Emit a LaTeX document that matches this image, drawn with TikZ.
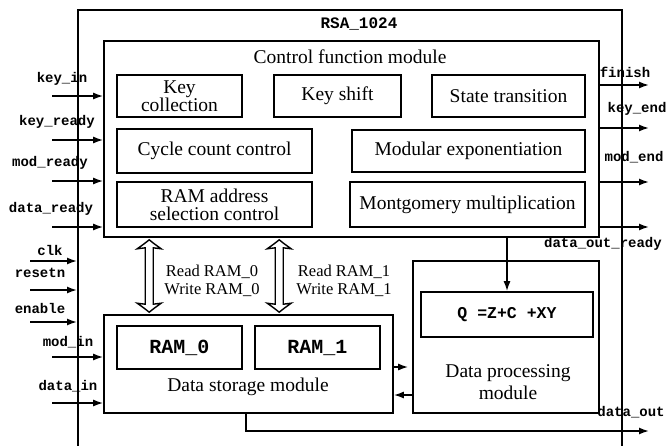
\documentclass[tikz,border=0pt]{standalone}
\usepackage{fontspec}
\setmainfont{Liberation Serif}
\newfontfamily\monof{Liberation Mono}
\usetikzlibrary{arrows.meta,calc}
\begin{document}
\begin{tikzpicture}[x=1pt,y=-1pt,
 box/.style={draw, line width=1.6pt, inner sep=0pt, align=center, font=\fontsize{19.5}{21}\selectfont},
 txt/.style={inner sep=0pt, align=center, font=\fontsize{19.5}{22}\selectfont},
 sig/.style={line width=1.6pt, -{Latex[length=10pt,width=7pt]}},
 lab/.style={font=\monof\bfseries\fontsize{14}{16}\selectfont, inner sep=0pt},
 rwlab/.style={inner sep=0pt, align=center, font=\fontsize{16.5}{18}\selectfont},
 dbl/.style={draw, fill=white, line width=1.4pt, line join=miter}
]
\useasboundingbox (0,0) rectangle (672,445);
\clip (0,0) rectangle (672,445);
\fill[white] (0,0) rectangle (672,445);

% outer box
\node[box, minimum width=544pt, minimum height=470pt, anchor=north west] (rsa) at (77,9) {};
\node[lab, font=\monof\bfseries\fontsize{16}{18}\selectfont] (title) at (359,24) {RSA\_1024};

% control function module
\node[box, minimum width=495pt, minimum height=196pt] (ctrl) at (351.5,139) {};
\node[txt] (ctitle) at (350,57) {Control function module};
\node[box, minimum width=125pt, minimum height=42pt] (keyc) at (179.5,96) {Key\\[-3pt]collection};
\node[box, minimum width=127pt, minimum height=42pt] (keys) at (337.5,96) {Key shift};
\node[box, minimum width=153pt, minimum height=42pt] (state) at (508.5,96) {State transition};
\node[box, minimum width=195pt, minimum height=44pt] (cycle) at (214.5,151) {Cycle count control};
\node[box, minimum width=233pt, minimum height=42pt] (modexp) at (468.5,151) {Modular exponentiation};
\node[box, minimum width=195pt, minimum height=45pt] (ramaddr) at (214.5,204.5) {RAM address\\[-3pt]selection control};
\node[box, minimum width=235pt, minimum height=45pt] (mont) at (467.5,204.5) {Montgomery multiplication};

% data storage
\node[box, minimum width=289pt, minimum height=98pt] (store) at (248.5,364) {};
\node[box, minimum width=125pt, minimum height=43pt, font=\monof\bfseries\fontsize{20}{22}\selectfont] (ram0) at (179.5,347.5) {RAM\_0};
\node[box, minimum width=125pt, minimum height=43pt, font=\monof\bfseries\fontsize{20}{22}\selectfont] (ram1) at (317.5,347.5) {RAM\_1};
\node[txt] (stitle) at (248,387) {Data storage module};

% data processing
\node[box, minimum width=186pt, minimum height=152pt] (dp) at (506,337) {};
\node[box, minimum width=172pt, minimum height=45pt, font=\monof\bfseries\fontsize{16.5}{18}\selectfont] (qbox) at (507,314.5) {Q =Z+C +XY};
\node[txt] (dptitle) at (508,382) {Data processing\\module};

% internal connectors
\draw[sig] (ctrl.south -| qbox.north) -- (qbox.north);
% hollow double-headed arrows between control and storage
\coordinate (d0t) at ($(ctrl.south west)+(46,2)$);
\coordinate (d0b) at ($(store.north west)+(46,-2)$);
\coordinate (d1t) at ($(ctrl.south west)+(176,2)$);
\coordinate (d1b) at ($(store.north west)+(176,-2)$);
\foreach \t/\b in {d0t/d0b,d1t/d1b}{
 \path[dbl] (\t)
   .. controls ($(\t)+(5,4)$) .. ($(\t)+(12,9)$)
   -- ($(\t)+(4,8)$) -- ($(\b)+(4,-8)$) -- ($(\b)+(12,-9)$)
   .. controls ($(\b)+(5,-4)$) .. (\b)
   .. controls ($(\b)+(-5,-4)$) .. ($(\b)+(-12,-9)$)
   -- ($(\b)+(-4,-8)$) -- ($(\t)+(-4,8)$) -- ($(\t)+(-12,9)$)
   .. controls ($(\t)+(-5,4)$) .. (\t) -- cycle;
}
\node[rwlab] (rw0) at (212,281) {Read RAM\_0\\Write RAM\_0};
\node[rwlab] (rw1) at (344,281) {Read RAM\_1\\Write RAM\_1};
\coordinate (a1) at (393,367);
\coordinate (a2) at (413,395);
\draw[sig, shorten >=4pt] (a1) -- (a1 -| dp.west);
\draw[sig] (a2) -- (a2 -| store.east);

% inputs
\coordinate (kin) at (52,96);
\coordinate (krd) at (52,140);
\coordinate (mrd) at (52,181);
\coordinate (drd) at (52,227);
\coordinate (clkS) at (30,261);
\coordinate (rstS) at (30,290);
\coordinate (enS) at (30,322);
\coordinate (minS) at (52,357);
\coordinate (dinS) at (52,403);
\draw[sig] (kin) -- (kin -| ctrl.west);
\draw[sig] (krd) -- (krd -| ctrl.west);
\draw[sig] (mrd) -- (mrd -| ctrl.west);
\draw[sig] (drd) -- (drd -| ctrl.west);
\draw[sig] (clkS) -- (clkS -| rsa.west);
\draw[sig] (rstS) -- (rstS -| rsa.west);
\draw[sig] (enS) -- (enS -| rsa.west);
\draw[sig] (minS) -- (minS -| store.west);
\draw[sig] (dinS) -- (dinS -| store.west);
\node[lab] (lkin) at (62,79) {key\_in};
\node[lab] (lkrd) at (57,122) {key\_ready};
\node[lab] (lmrd) at (50,163) {mod\_ready};
\node[lab] (ldrd) at (51,209) {data\_ready};
\node[lab] (lclk) at (50,250) {clk};
\node[lab] (lrst) at (40,273) {resetn};
\node[lab] (len) at (40,308) {enable};
\node[lab] (lmin) at (68,342) {mod\_in};
\node[lab] (ldin) at (68,386) {data\_in};

% outputs
\coordinate (finE) at (649,85);
\coordinate (kendE) at (649,128);
\coordinate (mendE) at (649,182);
\coordinate (dorE) at (649,227);
\coordinate (doE) at (649,431);
\draw[sig] (finE -| ctrl.east) -- (finE);
\draw[sig] (kendE -| ctrl.east) -- (kendE);
\draw[sig] (mendE -| ctrl.east) -- (mendE);
\draw[sig] (dorE -| ctrl.east) -- (dorE);
\draw[sig] ($(store.south west)+(143,0)$) |- (doE);
\node[lab] (lfin) at (625,72) {finish};
\node[lab] (lkend) at (637,109) {key\_end};
\node[lab] (lmend) at (634,157) {mod\_end};
\node[lab] (ldor) at (603,244) {data\_out\_ready};
\node[lab] (ldo) at (631,412) {data\_out};
\end{tikzpicture}
\end{document}
